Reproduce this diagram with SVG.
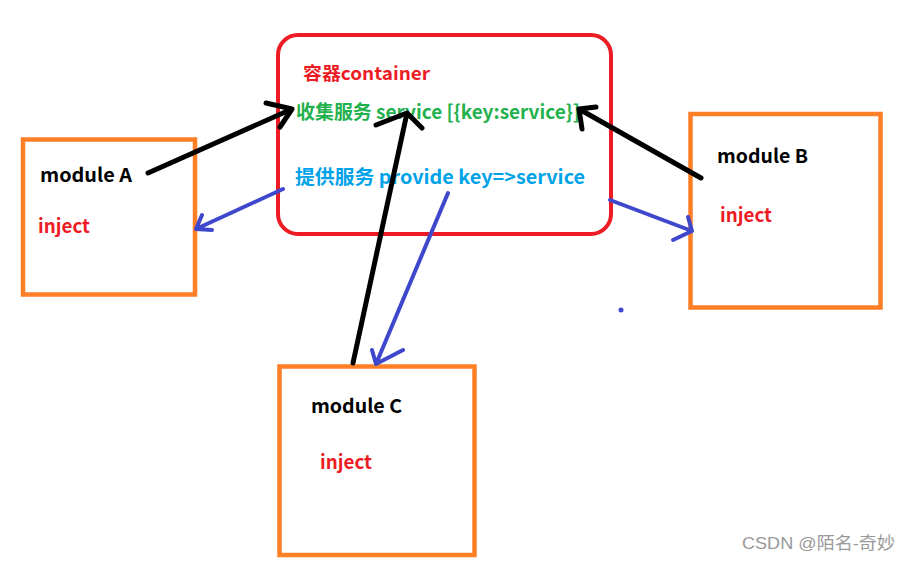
<svg xmlns="http://www.w3.org/2000/svg" width="910" height="562" viewBox="0 0 910 562">
<style>
.box{fill:none;stroke:#ff7f27;stroke-width:4.5}
.cont{fill:none;stroke:#ed1c24;stroke-width:4}
.t{font-family:"Noto Sans CJK SC","Microsoft YaHei","Liberation Sans",sans-serif;font-weight:bold}
.mod{font-size:19px;fill:#000}
.inj{font-size:19px;fill:#ed1c24}
.blk{fill:none;stroke:#000;stroke-width:5;stroke-linecap:round;stroke-linejoin:round}
.blu{fill:none;stroke:#3f48cc;stroke-width:4;stroke-linecap:round;stroke-linejoin:round}
</style>
<rect width="910" height="562" fill="#fff"/>
<g id="container">
<rect class="cont" x="278" y="35" width="333" height="199" rx="20"/>
<text class="t" x="303" y="80" font-size="18" fill="#ed1c24" textLength="127" lengthAdjust="spacingAndGlyphs">容器container</text>
<text class="t" x="296" y="119" font-size="19" fill="#22b14c" textLength="284" lengthAdjust="spacingAndGlyphs">收集服务 service [{key:service}]</text>
<text class="t" x="295" y="184" font-size="19" fill="#00a2e8" textLength="290" lengthAdjust="spacingAndGlyphs">提供服务 provide key=&gt;service</text>
</g>
<g id="moduleA">
<rect class="box" x="23" y="139.5" width="172" height="155"/>
<text class="t mod" x="40" y="182" textLength="92" lengthAdjust="spacingAndGlyphs">module A</text>
<text class="t inj" x="38" y="233" textLength="52" lengthAdjust="spacingAndGlyphs">inject</text>
</g>
<g id="moduleB">
<rect class="box" x="690.5" y="114" width="190" height="193.5"/>
<text class="t mod" x="717" y="163" textLength="91" lengthAdjust="spacingAndGlyphs">module B</text>
<text class="t inj" x="720" y="222" textLength="52" lengthAdjust="spacingAndGlyphs">inject</text>
</g>
<g id="moduleC">
<rect class="box" x="279.5" y="366.5" width="195" height="188.5"/>
<text class="t mod" x="311" y="413" textLength="91" lengthAdjust="spacingAndGlyphs">module C</text>
<text class="t inj" x="320" y="469" textLength="52" lengthAdjust="spacingAndGlyphs">inject</text>
</g>
<g id="connectors">
<path class="blk" d="M148 173 L292 109 M266 103 L292 109 L280 127"/>
<path class="blk" d="M353 363 L407 113 M376 125 L407 113 L422 128"/>
<path class="blk" d="M701 178 L579 109 M596 107 L579 109 L582 129"/>
<path class="blu" d="M283 189 L196 229 M202 215 L196 229 L212 230"/>
<path class="blu" d="M610 200 L692 231 M688 217 L692 231 L673 240"/>
<path class="blu" d="M448 193 L376 364 M372 350 L376 364 L403 350"/>
</g>
<circle cx="621" cy="310" r="2.5" fill="#3f48cc"/>
<text x="742" y="549" font-family="'Liberation Sans','Noto Sans CJK SC',sans-serif" font-size="17" fill="#999" textLength="153" lengthAdjust="spacingAndGlyphs">CSDN @陌名-奇妙</text>
</svg>
